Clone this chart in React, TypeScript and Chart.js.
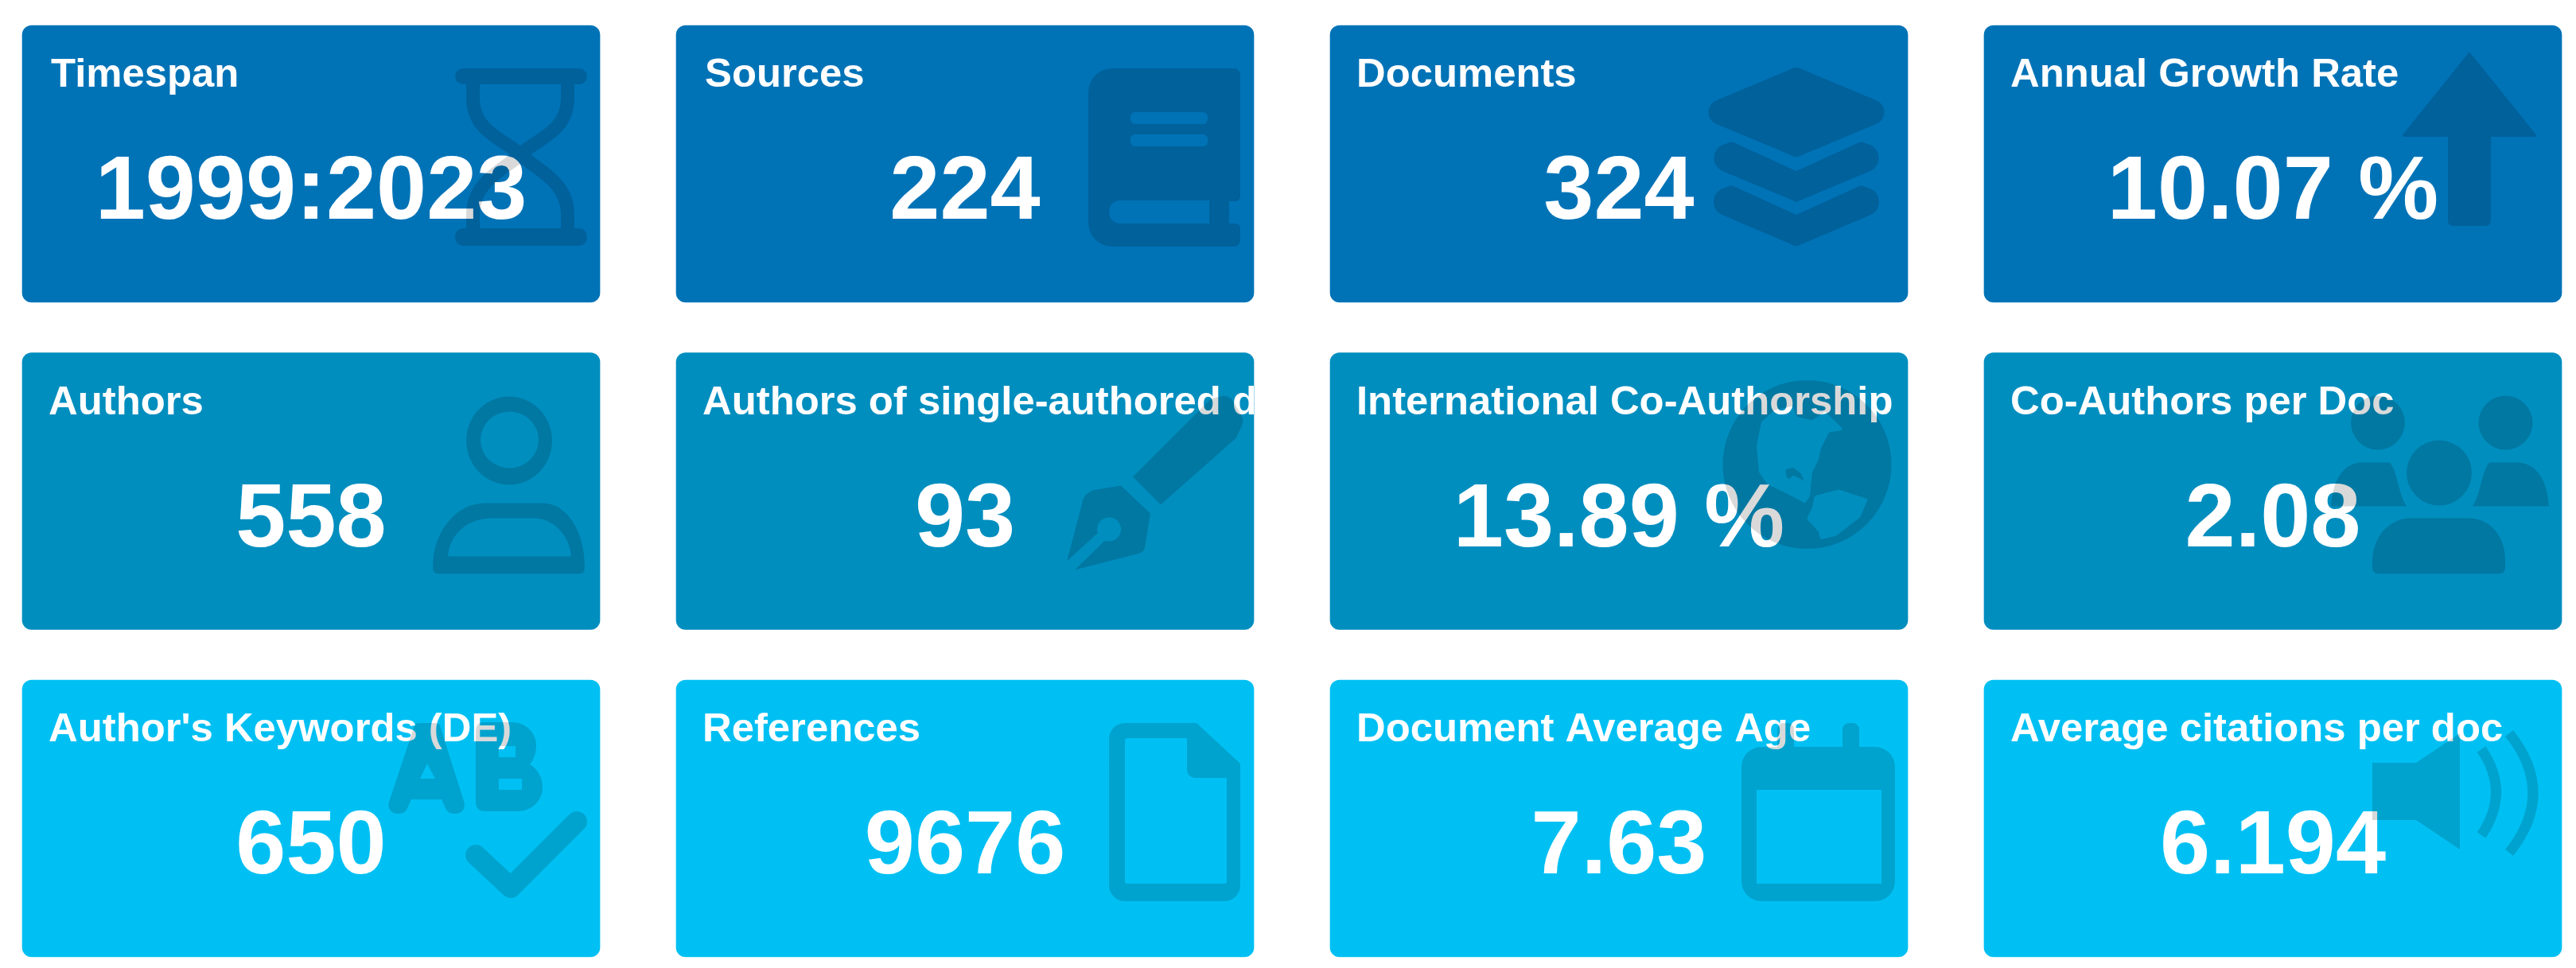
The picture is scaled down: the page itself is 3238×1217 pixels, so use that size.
import Chart, { ChartConfiguration, Plugin } from 'chart.js/auto';
import React, { useEffect, useRef } from 'react';

const columns = [1, 2, 3, 4];
const rows = [1, 2, 3];

const timingTitles = ['Timespan', 'Sources', 'Documents', 'Annual Growth Rate'];
const timingValues = ['1999:2023', '224', '324', '10.07 %'];
const authorTitles = ['Authors', 'Authors of single-authored docs', 'International Co-Authorship', 'Co-Authors per Doc'];
const authorValues = ['558', '93', '13.89 %', '2.08'];
const contentTitles = ["Author's Keywords (DE)", 'References', 'Document Average Age', 'Average citations per doc'];
const contentValues = ['650', '9676', '7.63', '6.194'];

const rowTitles = [timingTitles, authorTitles, contentTitles];
const rowValues = [timingValues, authorValues, contentValues];
const rowColors = ['#0073b7', '#008ebf', '#00c0f3'];

const FONT = '"Liberation Sans", Arial, sans-serif';
const ICON_FILL = 'rgba(0,0,0,0.15)';
const HALF_ROW = 0.4228;

type Pt = [number, number, number?];

// rounded polygon, third value of a point is its corner radius
function poly(p: Path2D, pts: Pt[]) {
  const n = pts.length;
  const first = pts[0];
  const last = pts[n - 1];
  p.moveTo((first[0] + last[0]) / 2, (first[1] + last[1]) / 2);
  for (let i = 0; i < n; i++) {
    const a = pts[i];
    const b = pts[(i + 1) % n];
    p.arcTo(a[0], a[1], (a[0] + b[0]) / 2, (a[1] + b[1]) / 2, a[2] ?? 0);
    p.lineTo((a[0] + b[0]) / 2, (a[1] + b[1]) / 2);
  }
  p.closePath();
}

function ring(p: Path2D, cx: number, cy: number, rx: number, ry: number) {
  p.moveTo(cx + rx, cy);
  p.ellipse(cx, cy, rx, ry, 0, 0, Math.PI * 2);
  p.closePath();
}

function hourglass(ctx: CanvasRenderingContext2D) {
  const bars = new Path2D();
  bars.roundRect(544, 54, 166, 20, 10);
  bars.roundRect(544, 255, 166, 22, 10);
  ctx.fill(bars);
  const glass = new Path2D();
  glass.moveTo(566.5, 74);
  glass.lineTo(566.5, 92);
  glass.bezierCurveTo(566.5, 135, 610, 145, 627, 163);
  glass.bezierCurveTo(645, 181, 685.5, 195, 685.5, 238);
  glass.lineTo(685.5, 255);
  glass.moveTo(685.5, 74);
  glass.lineTo(685.5, 92);
  glass.bezierCurveTo(685.5, 135, 642, 145, 625, 163);
  glass.bezierCurveTo(607, 181, 566.5, 195, 566.5, 238);
  glass.lineTo(566.5, 255);
  ctx.lineWidth = 17;
  ctx.stroke(glass);
}

function book(ctx: CanvasRenderingContext2D) {
  const p = new Path2D();
  poly(p, [[518, 54, 30], [709, 54, 8], [709, 221, 6], [695, 221], [695, 249], [709, 249, 6], [709, 278, 8], [518, 278, 30]]);
  p.roundRect(544, 220, 126, 29, [14, 0, 0, 14]);
  p.roundRect(571, 109, 97, 15, 6);
  p.roundRect(571, 137, 97, 15, 6);
  ctx.fill(p, 'evenodd');
}

function layers(ctx: CanvasRenderingContext2D) {
  const p = new Path2D();
  poly(p, [[586, 52, 6], [722, 109, 16], [586, 166, 6], [450, 109, 16]]);
  poly(p, [[505, 146, 4], [586, 183, 4], [667, 146, 4], [722, 165, 18], [586, 222, 4], [450, 165, 18]]);
  poly(p, [[505, 201, 4], [586, 238, 4], [667, 201, 4], [722, 220, 18], [586, 278, 4], [450, 220, 18]]);
  ctx.fill(p);
}

function arrowUp(ctx: CanvasRenderingContext2D) {
  const p = new Path2D();
  poly(p, [[610, 33, 2], [696, 140, 2], [637, 140], [637, 252, 6], [583, 252, 6], [583, 140], [524, 140, 2]]);
  ctx.fill(p);
}

function person(ctx: CanvasRenderingContext2D) {
  const p = new Path2D();
  ring(p, 612, 110.5, 54, 55.5);
  ring(p, 612.5, 109.5, 36.5, 35.5);
  p.moveTo(524, 278);
  p.lineTo(699, 278);
  p.quadraticCurveTo(707, 278, 707, 270);
  p.bezierCurveTo(707, 225, 685, 189, 654, 189);
  p.lineTo(582, 189);
  p.bezierCurveTo(545, 189, 516, 225, 516, 270);
  p.quadraticCurveTo(516, 278, 524, 278);
  p.closePath();
  p.moveTo(535, 256);
  p.lineTo(690, 256);
  p.bezierCurveTo(688, 230, 668, 208, 643, 208);
  p.lineTo(592, 208);
  p.bezierCurveTo(557, 208, 537, 230, 535, 256);
  p.closePath();
  ctx.fill(p, 'evenodd');
}

function pen(ctx: CanvasRenderingContext2D) {
  const p = new Path2D();
  poly(p, [[574, 156], [672, 58, 4], [695, 52, 14], [714, 85, 14], [704, 107, 6], [609, 191]]);
  p.moveTo(559, 167);
  p.lineTo(596, 202);
  p.lineTo(589, 245);
  p.quadraticCurveTo(588, 250, 583, 252);
  p.lineTo(501, 273);
  p.lineTo(539, 236);
  p.arc(544, 222, 15, 1.91, 2.82, true);
  p.lineTo(491, 262);
  p.lineTo(510, 190);
  p.quadraticCurveTo(512, 175, 528, 172);
  p.closePath();
  ctx.fill(p);
}

function globe(ctx: CanvasRenderingContext2D) {
  const p = new Path2D();
  ring(p, 599.5, 140.5, 106, 106);
  poly(p, [[536, 117, 6], [542, 87, 6], [559, 72, 6], [582, 67, 3], [586, 80, 3], [606, 85, 3], [622, 74, 3], [646, 97, 2], [627, 100, 3], [617, 120, 3], [614, 134, 3], [606, 150, 3], [603, 180, 3], [597, 189, 2], [574, 177, 3], [549, 165, 5], [539, 150, 6]]);
  poly(p, [[572, 147, 2], [582, 144, 2], [592, 152, 2], [597, 164, 1], [592, 159, 2], [582, 154, 2], [577, 159, 2], [574, 157, 2]]);
  poly(p, [[609, 180, 3], [639, 172, 4], [676, 184, 3], [666, 207, 5], [636, 230, 5], [616, 235, 3], [614, 225, 3], [599, 209, 3], [606, 194, 3]]);
  ctx.fill(p, 'evenodd');
}

function users(ctx: CanvasRenderingContext2D) {
  const p = new Path2D();
  ring(p, 495, 88, 34, 34);
  ring(p, 655.5, 88, 34, 34);
  ring(p, 572, 151, 41, 41);
  p.moveTo(436, 193);
  p.bezierCurveTo(438, 160, 452, 138, 475, 138);
  p.lineTo(510, 138);
  p.bezierCurveTo(520, 150, 520, 175, 531, 193);
  p.closePath();
  p.moveTo(710, 193);
  p.bezierCurveTo(708, 160, 694, 138, 670, 138);
  p.lineTo(635, 138);
  p.bezierCurveTo(625, 150, 625, 175, 614, 193);
  p.closePath();
  p.moveTo(488, 270);
  p.lineTo(488, 260);
  p.bezierCurveTo(490, 225, 515, 208, 535, 208);
  p.lineTo(610, 208);
  p.bezierCurveTo(635, 208, 655, 230, 655, 260);
  p.lineTo(655, 270);
  p.quadraticCurveTo(655, 278, 645, 278);
  p.lineTo(498, 278);
  p.quadraticCurveTo(488, 278, 488, 270);
  p.closePath();
  ctx.fill(p);
}

function keywords(ctx: CanvasRenderingContext2D) {
  const p = new Path2D();
  // A
  poly(p, [[494, 54, 6], [524, 54, 6], [560, 168, 11], [535, 168, 11], [527, 150], [489, 150], [481, 168, 11], [456, 168, 11]]);
  poly(p, [[500, 124], [519, 124], [509, 105]]);
  // B
  p.moveTo(580, 53);
  p.lineTo(615, 53);
  p.bezierCurveTo(635, 53, 646, 68, 646, 82);
  p.bezierCurveTo(646, 92, 643, 100, 638, 106);
  p.bezierCurveTo(648, 112, 654, 122, 654, 135);
  p.bezierCurveTo(654, 152, 640, 165, 622, 165);
  p.lineTo(582, 165);
  p.quadraticCurveTo(570, 165, 570, 153);
  p.lineTo(570, 65);
  p.quadraticCurveTo(570, 53, 580, 53);
  p.closePath();
  p.rect(599, 83, 21, 14);
  p.rect(599, 124, 29, 14);
  ctx.fill(p, 'evenodd');
  // check
  const check = new Path2D();
  check.moveTo(570, 220);
  check.lineTo(614, 261);
  check.lineTo(697, 178);
  ctx.lineWidth = 26;
  ctx.lineCap = 'round';
  ctx.lineJoin = 'round';
  ctx.stroke(check);
}

function file(ctx: CanvasRenderingContext2D) {
  const p = new Path2D();
  poly(p, [[544, 54, 20], [654, 54, 4], [709, 105, 4], [709, 278, 20], [544, 278, 20]]);
  poly(p, [[564, 73, 3], [642, 73], [642, 123, 10], [692, 123], [692, 256, 3], [564, 256, 3]]);
  ctx.fill(p, 'evenodd');
}

function calendar(ctx: CanvasRenderingContext2D) {
  const p = new Path2D();
  p.roundRect(644, 54, 21, 30, [8, 8, 0, 0]);
  p.roundRect(562, 54, 21, 30, [8, 8, 0, 0]);
  poly(p, [[517, 84, 25], [710, 84, 25], [710, 278, 25], [517, 278, 25]]);
  p.rect(536, 138, 157, 118);
  ctx.fill(p, 'evenodd');
}

function volume(ctx: CanvasRenderingContext2D) {
  const p = new Path2D();
  poly(p, [[488, 104], [543, 104], [598, 67], [598, 213], [543, 176], [488, 176]]);
  ctx.fill(p);
  const waves = new Path2D();
  waves.moveTo(625, 87);
  waves.quadraticCurveTo(662, 141, 625, 195);
  waves.moveTo(660, 67);
  waves.quadraticCurveTo(720, 142, 660, 217);
  ctx.lineWidth = 13;
  ctx.stroke(waves);
}

const rowIcons = [
  [hourglass, book, layers, arrowUp],
  [person, pen, globe, users],
  [keywords, file, calendar, volume],
];

const whitePage: Plugin<'bar'> = {
  id: 'whitePage',
  beforeDraw(chart) {
    chart.ctx.fillStyle = '#ffffff';
    chart.ctx.fillRect(0, 0, chart.width, chart.height);
  },
};

const cardText: Plugin<'bar'> = {
  id: 'cardText',
  afterDatasetsDraw(chart) {
    const { ctx } = chart;
    rows.forEach((_, r) => {
      chart.getDatasetMeta(r).data.forEach((el: any, c) => {
        const left = el.x - el.width / 2;
        const top = Math.min(el.y, el.base);
        ctx.save();
        ctx.beginPath();
        ctx.rect(left, top, el.width, Math.abs(el.base - el.y));
        ctx.clip();
        ctx.fillStyle = '#ffffff';
        ctx.textBaseline = 'alphabetic';
        ctx.textAlign = 'left';
        ctx.font = `bold 50.8px ${FONT}`;
        ctx.fillText(rowTitles[r][c], left + (r === 0 && c < 2 ? 36 : 33), top + 77);
        ctx.textAlign = 'center';
        ctx.font = `bold 113.5px ${FONT}`;
        ctx.fillText(rowValues[r][c], el.x, top + 243);
        // the icon sits above the text, it greys the letters it crosses
        ctx.translate(left, top);
        ctx.fillStyle = ICON_FILL;
        ctx.strokeStyle = ICON_FILL;
        rowIcons[r][c](ctx);
        ctx.restore();
      });
    });
  },
};

const App: React.FC = () => {
  const chartRef = useRef<HTMLCanvasElement>(null);

  useEffect(() => {
    document.body.style.margin = '0';
    if (!chartRef.current) return;
    // opaque canvas so the text gets the same subpixel smoothing as the reference
    chartRef.current.getContext('2d', { alpha: false });
    const chartConfig: ChartConfiguration<'bar'> = {
      type: 'bar',
      data: {
        datasets: rows.map((row, r) => ({
          data: columns.map((col) => ({ x: col, y: [row - HALF_ROW, row + HALF_ROW] })) as any,
          backgroundColor: rowColors[r],
          barThickness: 726,
          borderRadius: 12,
          borderSkipped: false,
          grouped: false,
        })),
      },
      options: {
        animation: false,
        responsive: false,
        devicePixelRatio: 1,
        layout: { padding: 0 },
        plugins: {
          legend: { display: false },
          tooltip: { enabled: false },
        },
        scales: {
          x: { type: 'linear', display: false, offset: false, min: 0.5243, max: 4.4635 },
          y: { type: 'linear', display: false, reverse: true, min: 0.4994, max: 3.4569 },
        },
      },
      plugins: [whitePage, cardText],
    };
    const chart = new Chart(chartRef.current, chartConfig);
    return () => {
      chart.destroy();
    };
  }, []);

  return <canvas ref={chartRef} width={3238} height={1217} style={{ display: 'block' }} />;
};

export default App;
